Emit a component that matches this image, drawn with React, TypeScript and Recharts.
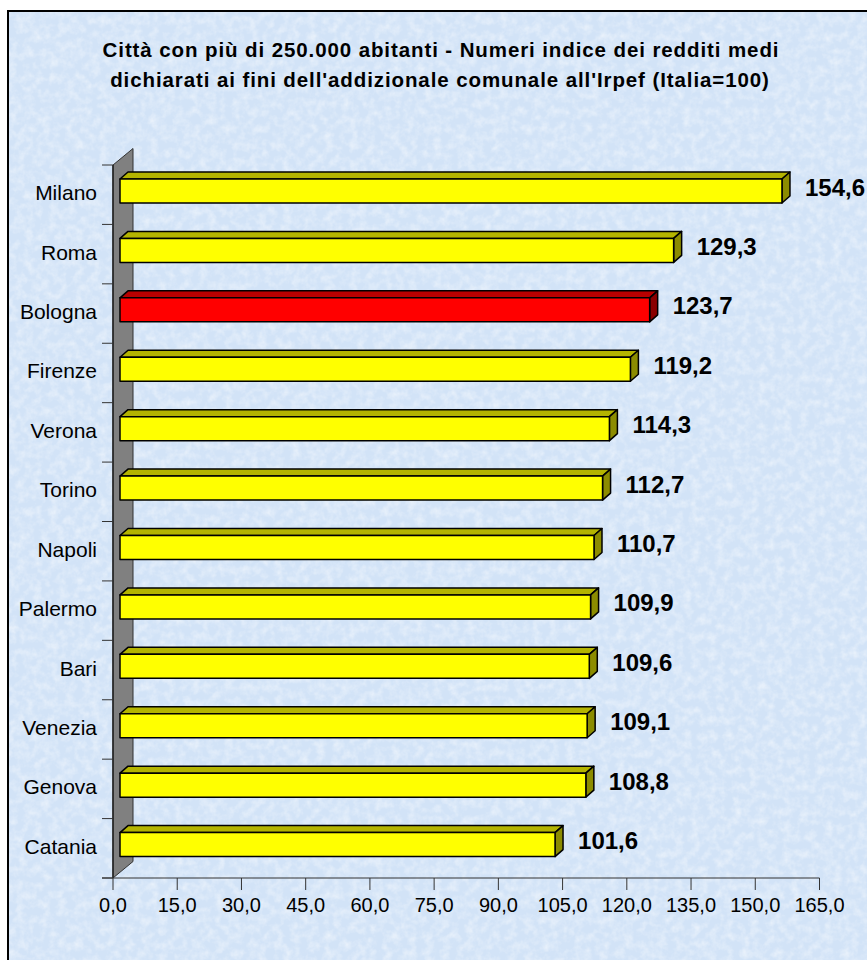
import React from 'react';
import { BarChart, Bar, XAxis, YAxis, LabelList } from 'recharts';

const CITIES = ['Milano', 'Roma', 'Bologna', 'Firenze', 'Verona', 'Torino', 'Napoli', 'Palermo', 'Bari', 'Venezia', 'Genova', 'Catania'];
const VALUES = [154.6, 129.3, 123.7, 119.2, 114.3, 112.7, 110.7, 109.9, 109.6, 109.1, 108.8, 101.6];
const HIGHLIGHT = ['Bologna'];
const X_TICKS = [0, 15, 30, 45, 60, 75, 90, 105, 120, 135, 150, 165];
const TITLE_LINES = [
  "Città con più di 250.000 abitanti - Numeri indice dei redditi medi",
  "dichiarati ai fini dell'addizionale comunale all'Irpef (Italia=100)",
];

const data = CITIES.map((city, i) => ({ city, value: VALUES[i] }));

const W = 867;
const H = 960;
const FONT = '"Liberation Sans", Arial, Helvetica, sans-serif';
const PLOT_LEFT = 113;
const PLOT_TOP = 165;
const PLOT_BOTTOM = 878;
const PLOT_RIGHT = 819.5;
const Y_AXIS_W = 100;
const X_AXIS_H = 60;
const BAND = (PLOT_BOTTOM - PLOT_TOP) / CITIES.length;
const WALL_DX = 20;
const WALL_DY = 16.5;
const BAR_OX = 7; // front face offset (depth) in x
const BAR_OY = -4;
const DEPTH_X = 8;
const DEPTH_Y = 7;

const fmt = (v: number) => v.toFixed(1).replace('.', ',');

const Bar3D = (props: any) => {
  const { x, y, width, height, payload } = props;
  const hi = payload && HIGHLIGHT.includes(payload.city);
  const front = hi ? '#ff0000' : '#ffff00';
  const top = hi ? '#b80000' : '#b4b400';
  const side = hi ? '#8a0000' : '#8c8c00';
  const fx = x + BAR_OX;
  const fy = y + BAR_OY;
  const w = Math.max(0, width);
  return (
    <g stroke="#000" strokeWidth={1.5} strokeLinejoin="round">
      <polygon
        points={`${fx},${fy} ${fx + DEPTH_X},${fy - DEPTH_Y} ${fx + w + DEPTH_X},${fy - DEPTH_Y} ${fx + w},${fy}`}
        fill={top}
      />
      <polygon
        points={`${fx + w},${fy} ${fx + w + DEPTH_X},${fy - DEPTH_Y} ${fx + w + DEPTH_X},${fy + height - DEPTH_Y} ${fx + w},${fy + height}`}
        fill={side}
      />
      <rect x={fx} y={fy} width={w} height={height} fill={front} />
    </g>
  );
};

const ValueLabel = (props: any) => {
  const { x, y, width, height, value } = props;
  return (
    <text
      x={x + width + BAR_OX + 23}
      y={y + height / 2 - 8}
      dominantBaseline="central"
      fontFamily={FONT}
      fontWeight="bold"
      fontSize={24}
      fill="#000"
    >
      {fmt(Number(value))}
    </text>
  );
};

const YTick = (props: any) => {
  const { y, payload, index } = props;
  const isLast = index === CITIES.length - 1;
  return (
    <g>
      <line x1={PLOT_LEFT - 11} x2={PLOT_LEFT} y1={y - BAND / 2} y2={y - BAND / 2} stroke="#333" strokeWidth={1} />
      {isLast && (
        <line x1={PLOT_LEFT - 11} x2={PLOT_LEFT} y1={y + BAND / 2} y2={y + BAND / 2} stroke="#333" strokeWidth={1} />
      )}
      <text x={PLOT_LEFT - 16} y={y - 2} textAnchor="end" dominantBaseline="central" fontFamily={FONT} fontSize={21} fill="#000">
        {payload.value}
      </text>
    </g>
  );
};

const XTick = (props: any) => {
  const { x, y, payload } = props;
  return (
    <text x={x} y={y + 13} textAnchor="middle" dominantBaseline="central" fontFamily={FONT} fontSize={20} fill="#000">
      {fmt(Number(payload.value))}
    </text>
  );
};

const Background = () => (
  <svg width={W} height={H} style={{ position: 'absolute', left: 0, top: 0 }}>
    <defs>
      <filter id="tex" x="0" y="0" width="100%" height="100%">
        <feTurbulence type="fractalNoise" baseFrequency="0.12" numOctaves={3} seed={7} />
        <feColorMatrix type="matrix" values="0 0 0 0 1  0 0 0 0 1  0 0 0 0 1  0 0 0 1.6 -0.6" />
      </filter>
    </defs>
    <rect x={0} y={0} width={W} height={H} fill="#ffffff" />
    <rect x={8} y={11} width={W} height={H} fill="#d2e3f7" />
    <rect x={8} y={11} width={W} height={H} fill="#fff" filter="url(#tex)" opacity={0.55} />
    <path d={`M8 ${H} V11 H${W}`} stroke="#000" strokeWidth={2} fill="none" />
    <text x={441} y={57} textAnchor="middle" fontFamily={FONT} fontWeight="bold" fontSize={20.5} letterSpacing={0.9} fill="#000">
      {TITLE_LINES[0]}
    </text>
    <text x={440} y={87} textAnchor="middle" fontFamily={FONT} fontWeight="bold" fontSize={20.5} letterSpacing={0.9} fill="#000">
      {TITLE_LINES[1]}
    </text>
    <polygon
      points={`${PLOT_LEFT},${PLOT_TOP} ${PLOT_LEFT + WALL_DX},${PLOT_TOP - WALL_DY} ${PLOT_LEFT + WALL_DX},${PLOT_BOTTOM - WALL_DY} ${PLOT_LEFT},${PLOT_BOTTOM}`}
      fill="#808080"
      stroke="#333"
      strokeWidth={1}
    />
    <line x1={PLOT_LEFT} x2={PLOT_LEFT} y1={PLOT_TOP} y2={PLOT_BOTTOM} stroke="#222" strokeWidth={1.5} />
    <line x1={PLOT_LEFT - 11} x2={PLOT_LEFT} y1={PLOT_BOTTOM} y2={PLOT_BOTTOM} stroke="#333" strokeWidth={1} />
  </svg>
);

export default function App() {
  return (
    <div style={{ position: 'absolute', left: 0, top: 0, width: W, height: H, overflow: 'hidden' }}>
      <Background />
      <div style={{ position: 'absolute', left: 0, top: 0 }}>
        <BarChart
          width={W}
          height={H}
          data={data}
          layout="vertical"
          margin={{ top: PLOT_TOP, right: W - PLOT_RIGHT, bottom: H - PLOT_BOTTOM - X_AXIS_H, left: PLOT_LEFT - Y_AXIS_W }}
          barSize={24}
        >
          <XAxis
            type="number"
            domain={[0, 165]}
            ticks={X_TICKS}
            interval={0}
            height={X_AXIS_H}
            tick={<XTick />}
            tickSize={12}
            tickLine={{ stroke: '#333' }}
            axisLine={{ stroke: '#333' }}
            allowDataOverflow
          />
          <YAxis
            type="category"
            dataKey="city"
            width={Y_AXIS_W}
            axisLine={false}
            tickLine={false}
            interval={0}
            tick={<YTick />}
          />
          <Bar dataKey="value" shape={<Bar3D />} isAnimationActive={false}>
            <LabelList dataKey="value" content={<ValueLabel />} />
          </Bar>
        </BarChart>
      </div>
    </div>
  );
}
